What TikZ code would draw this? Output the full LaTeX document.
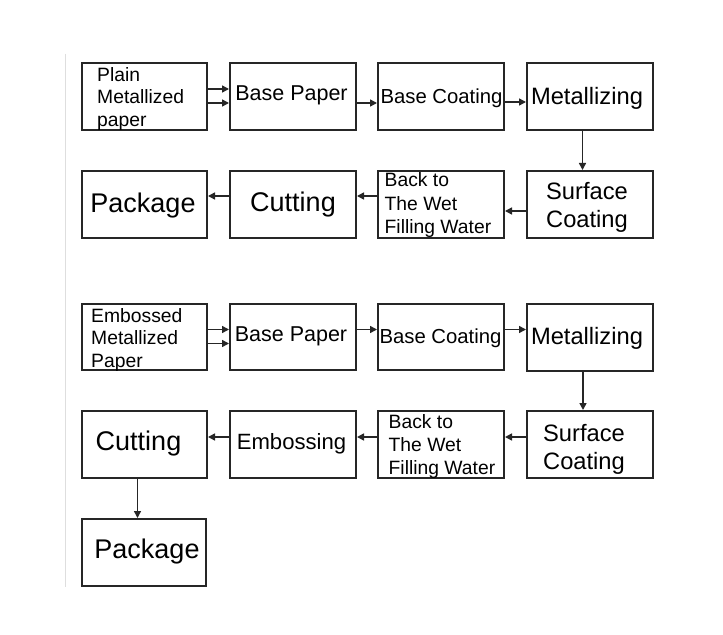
\documentclass[tikz,border=0pt]{standalone}
\usepackage{fontspec}
\setmainfont{Liberation Sans}
\usetikzlibrary{arrows.meta}
\begin{document}
\begin{tikzpicture}[x=1bp,y=-1bp,
  box/.style={draw=black!85,line width=2bp,rectangle,inner sep=0pt,anchor=north west,minimum height=67bp},
  lbl/.style={inner sep=0pt,anchor=base},
  lbll/.style={inner sep=0pt,anchor=base west},
  flow/.style={draw=black!85,line width=1.5bp,-{Triangle[length=7bp,width=7bp]}},
  fA/.style={font=\fontsize{19.3bp}{22.5bp}\selectfont},
  fB/.style={font=\fontsize{20.3bp}{24bp}\selectfont},
  fC/.style={font=\fontsize{21.5bp}{24bp}\selectfont},
  fD/.style={font=\fontsize{23.7bp}{28bp}\selectfont},
  fE/.style={font=\fontsize{27bp}{30bp}\selectfont}
]
\useasboundingbox[fill=white] (0,0) rectangle (723,635);
\draw[draw=black!13,line width=1.5bp] (65.5,54) -- (65.5,587);

% ---------- upper flow ----------
\node[box,minimum width=125bp] (a1) at (81,62) {};
\node[box,minimum width=126bp] (a2) at (229,62) {};
\node[box,minimum width=126bp] (a3) at (377,62) {};
\node[box,minimum width=126bp] (a4) at (526,62) {};
\node[box,minimum width=125bp] (a8) at (81,170) {};
\node[box,minimum width=126bp] (a7) at (229,170) {};
\node[box,minimum width=126bp] (a6) at (377,170) {};
\node[box,minimum width=126bp] (a5) at (526,170) {};

\node[lbll,fA] (t1a) at (97,82) {Plain};
\node[lbll,fA] (t1b) at (97,103.6) {Metallized};
\node[lbll,fA] (t1c) at (97,126.2) {paper};
\node[lbl,fC] (t2) at (291.5,100.2) {Base Paper};
\node[lbl,fB] (t3) at (441.5,104) {Base Coating};
\node[lbl,fD] (t4) at (587,104.8) {Metallizing};
\node[lbl,fD] (t5a) at (587,199.5) {Surface};
\node[lbl,fD] (t5b) at (587,227.5) {Coating};
\node[lbll,fA] (t6a) at (384.5,187) {Back to};
\node[lbll,fA] (t6b) at (384.5,210.7) {The Wet};
\node[lbll,fA] (t6c) at (384.5,233.6) {Filling Water};
\node[lbl,fE] (t7) at (293,211.7) {Cutting};
\node[lbl,fE] (t8) at (143,212.2) {Package};

\draw[flow] (a1.east |- 0,89) -- (a2.west |- 0,89);
\draw[flow] (a1.east |- 0,103) -- (a2.west |- 0,103);
\draw[flow] (a2.east |- 0,103) -- (a3.west |- 0,103);
\draw[flow] (a3.east |- 0,102) -- (a4.west |- 0,102);
\draw[flow] (a4.south -| 582.5,0) -- (a5.north -| 582.5,0);
\draw[flow] (a5.west |- 0,211) -- (a6.east |- 0,211);
\draw[flow] (a6.west |- 0,196) -- (a7.east |- 0,196);
\draw[flow] (a7.west |- 0,196) -- (a8.east |- 0,196);

% ---------- lower flow ----------
\node[box,minimum width=125bp,minimum height=66bp] (b1) at (81,303) {};
\node[box,minimum width=126bp,minimum height=66bp] (b2) at (229,303) {};
\node[box,minimum width=126bp,minimum height=66bp] (b3) at (377,303) {};
\node[box,minimum width=126bp] (b4) at (526,303) {};
\node[box,minimum width=125bp] (b8) at (81,410) {};
\node[box,minimum width=126bp] (b7) at (229,410) {};
\node[box,minimum width=126bp] (b6) at (377,410) {};
\node[box,minimum width=126bp] (b5) at (526,410) {};
\node[box,minimum width=124bp] (b9) at (81,518) {};

\node[lbll,fA] (u1a) at (91,322) {Embossed};
\node[lbll,fA] (u1b) at (91,344) {Metallized};
\node[lbll,fA] (u1c) at (91,367.2) {Paper};
\node[lbl,fC] (u2) at (291,341.4) {Base Paper};
\node[lbl,fB] (u3) at (440.5,343) {Base Coating};
\node[lbl,fD] (u4) at (587,344.8) {Metallizing};
\node[lbl,fD] (u5a) at (584,441.8) {Surface};
\node[lbl,fD] (u5b) at (584,469.7) {Coating};
\node[lbll,fA] (u6a) at (388.5,428.1) {Back to};
\node[lbll,fA] (u6b) at (388.5,451.1) {The Wet};
\node[lbll,fA] (u6c) at (388.5,474.1) {Filling Water};
\node[lbl,font=\fontsize{22.1bp}{26bp}\selectfont] (u7) at (291.5,449.9) {Embossing};
\node[lbl,fE] (u8) at (138.5,450.5) {Cutting};
\node[lbl,fE] (u9) at (147,558.9) {Package};

\draw[flow] (b1.east |- 0,329.5) -- (b2.west |- 0,329.5);
\draw[flow] (b1.east |- 0,343.5) -- (b2.west |- 0,343.5);
\draw[flow] (b2.east |- 0,329.5) -- (b3.west |- 0,329.5);
\draw[flow] (b3.east |- 0,329.5) -- (b4.west |- 0,329.5);
\draw[flow] (b4.south -| 583,0) -- (b5.north -| 583,0);
\draw[flow] (b5.west |- 0,437) -- (b6.east |- 0,437);
\draw[flow] (b6.west |- 0,437) -- (b7.east |- 0,437);
\draw[flow] (b7.west |- 0,437) -- (b8.east |- 0,437);
\draw[flow] (b8.south -| 137.5,0) -- (b9.north -| 137.5,0);
\end{tikzpicture}
\end{document}
